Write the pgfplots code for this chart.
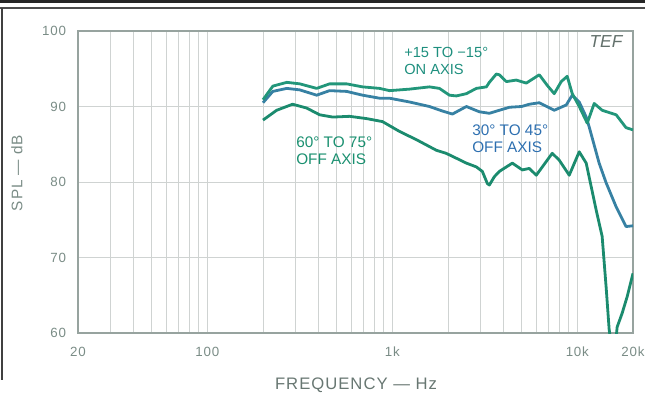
\documentclass[border=0pt]{standalone}
\usepackage{fontspec}
\setmainfont{Liberation Sans}
\newfontfamily\spacedfont[LetterSpace=6]{Liberation Sans}
\usepackage{pgfplots}
\pgfplotsset{compat=1.18}
\definecolor{onax}{HTML}{22967A}
\definecolor{midc}{HTML}{3781A3}
\definecolor{offc}{HTML}{1B8B6E}
\definecolor{onlab}{HTML}{1E8F7E}
\definecolor{midlab}{HTML}{2D6FB0}
\definecolor{offlab}{HTML}{1A9070}
\definecolor{tickc}{HTML}{7A8C86}
\definecolor{axisc}{HTML}{97A39F}
\definecolor{gridc}{HTML}{CFD3D2}
\begin{document}
\begin{tikzpicture}[x=0.75pt,y=0.75pt]
\begin{axis}[
  at={(58.5pt,45pt)}, anchor=south west,
  scale only axis, width=416.25pt, height=226.5pt,
  xmode=log, xmin=20, xmax=20000, ymin=60, ymax=100,
  xtick={20,100,1000,10000,20000},
  xticklabels={20,100,1k,10k,20k},
  minor xtick={30,40,50,60,70,80,90,200,300,400,500,600,700,800,900,2000,3000,4000,5000,6000,7000,8000,9000},
  ytick={60,70,80,90,100},
  xmajorgrids, xminorgrids, ymajorgrids,
  major grid style={gridc, line width=0.6pt},
  minor grid style={gridc, line width=0.6pt},
  axis line style={axisc, line width=0.9pt},
  major tick length=0pt, minor tick length=0pt,
  tick style={draw=none},
  ticklabel style={font=\spacedfont\fontsize{10}{12}\selectfont, text=tickc},
  xticklabel style={anchor=center, yshift=-14.25pt},
  yticklabel style={anchor=east, xshift=-5.5pt},
  /pgf/number format/assume math mode=true,
  clip=true,
]
\addplot[offc, line width=2.1pt, line join=round] coordinates {
(200,88.2)(237,89.5)(289,90.3)(344,89.8)(405,88.9)(476,88.6)(587,88.7)(725,88.4)(885,88.0)(1093,86.7)(1351,85.6)(1731,84.2)(1954,83.8)(2113,83.4)(2514,82.5)(2846,82.0)(3066,81.4)(3264,79.8)(3346,79.6)(3560,80.7)(3788,81.4)(4454,82.5)(5042,81.6)(5500,81.8)(6000,80.9)(7318,83.8)(7982,82.9)(9042,80.9)(10240,84.0)(11170,82.5)(12640,76.3)(13620,72.8)(14310,66.1)(14860,60.5)(15500,57)(16220,59.5)(16420,60.8)(17460,62.6)(18590,64.8)(20000,67.9)
};
\addplot[midc, line width=2.1pt, line join=round] coordinates {
(200,90.5)(226,92.0)(269,92.4)(316,92.2)(390,91.5)(458,92.1)(566,92.0)(690,91.5)(853,91.1)(966,91.1)(1238,90.6)(1587,90.0)(1866,89.4)(2113,89.0)(2514,90.0)(2954,89.3)(3346,89.1)(3788,89.5)(4300,89.9)(5000,90.0)(5500,90.3)(6228,90.5)(7502,89.5)(8710,90.2)(9388,91.5)(10240,90.6)(11170,88.6)(11590,87.3)(13120,82.5)(14310,79.9)(16220,76.7)(18330,74.1)(20000,74.2)
};
\addplot[onax, line width=2.1pt, line join=round] coordinates {
(200,90.9)(226,92.7)(269,93.2)(316,93.0)(390,92.4)(458,93.0)(566,93.0)(690,92.6)(853,92.4)(966,92.1)(1238,92.3)(1587,92.6)(1797,92.4)(2035,91.5)(2220,91.4)(2514,91.7)(2846,92.4)(3224,92.6)(3346,93.2)(3650,94.3)(3788,94.2)(4134,93.3)(4678,93.5)(5298,93.1)(6228,94.2)(6878,92.8)(7502,91.7)(8186,93.3)(8820,94.0)(9388,91.7)(10240,90.0)(11310,87.8)(12340,90.4)(13620,89.5)(16220,88.9)(18330,87.2)(20000,86.9)
};
\end{axis}
% frame
\fill[black!85] (0,389.5) rectangle (645,393);
\draw[black!70, line width=1.1pt] (0,385) -- (645,385);
\draw[black!75, line width=1.1pt] (2,385) -- (2,13);
% labels
\node[rotate=90, text=tickc, font=\spacedfont\fontsize{11.5}{13}\selectfont] at (17,220) {SPL — dB};
\node[text=tickc!85!black, font=\spacedfont\fontsize{12.5}{14}\selectfont] at (356,8) {FREQUENCY — Hz};
\node[text=tickc!80!black, font=\itshape\fontsize{13}{15}\selectfont] at (606,351) {TEF};
\node[anchor=north west, inner sep=0pt, align=left, text=onlab, font=\fontsize{11}{12.75}\selectfont] at (404,346) {+15 TO −15°\\ON AXIS};
\node[anchor=north west, inner sep=0pt, align=left, text=midlab, font=\fontsize{11.5}{12.75}\selectfont] at (472,268) {30° TO 45°\\OFF AXIS};
\node[anchor=north west, inner sep=0pt, align=left, text=offlab, font=\fontsize{11.5}{12.75}\selectfont] at (296,256) {60° TO 75°\\OFF AXIS};
\pgfresetboundingbox
\useasboundingbox (0,0) rectangle (645,393);
\end{tikzpicture}
\end{document}
